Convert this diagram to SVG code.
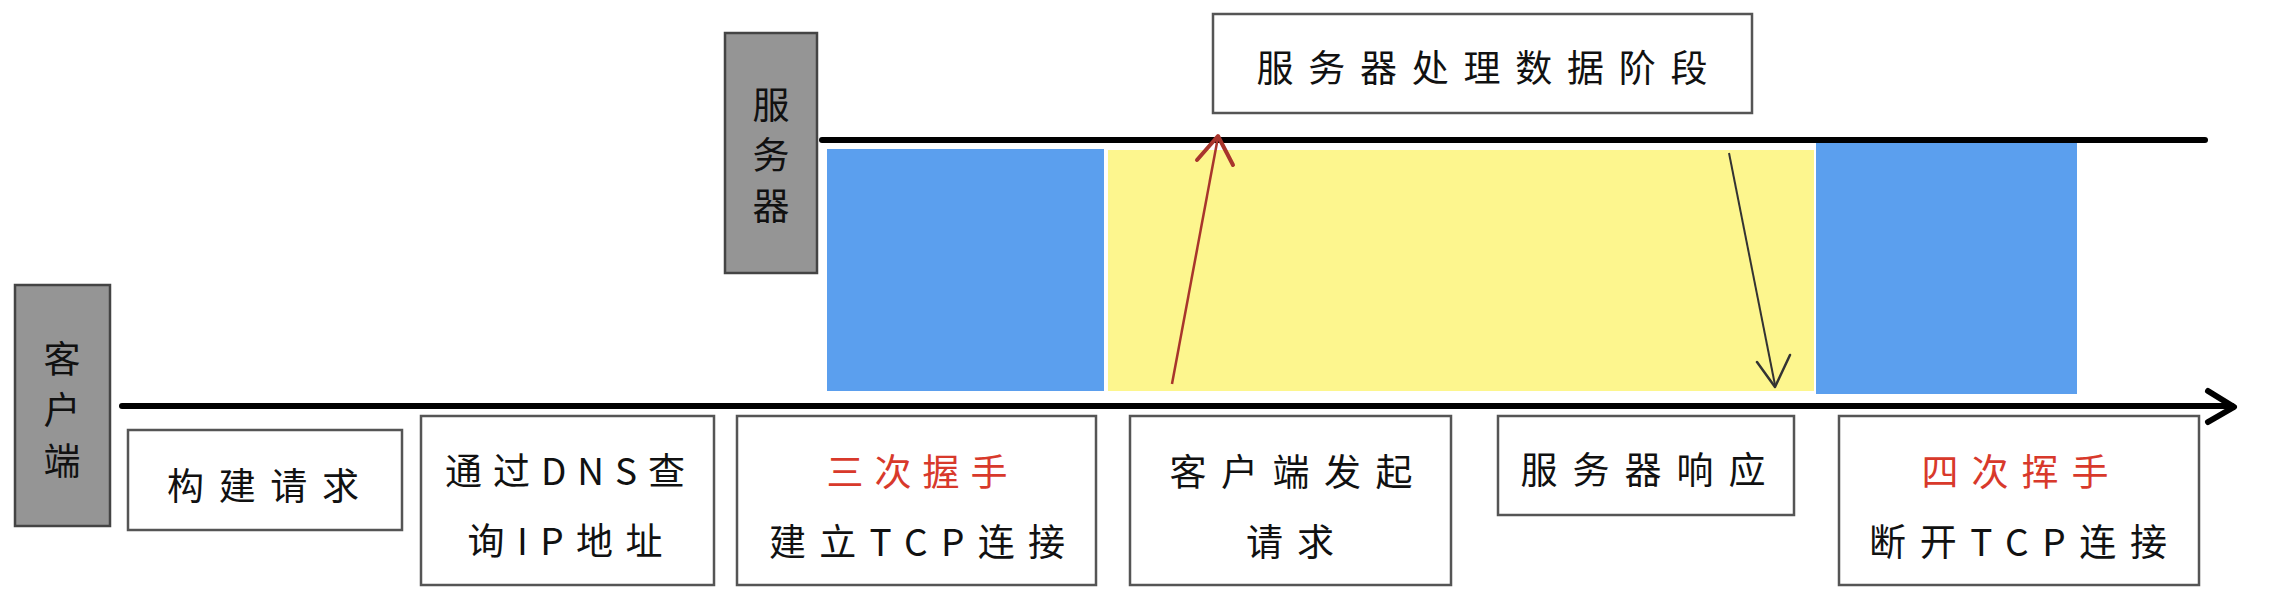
<svg xmlns="http://www.w3.org/2000/svg" width="2274" height="612" viewBox="0 0 2274 612">
<defs>
<style>
.box{fill:#ffffff;stroke:#555;stroke-width:2.5}
.gbox{fill:#959595;stroke:#444;stroke-width:2.5}
.t{font-family:"Noto Sans CJK SC","Noto Sans",sans-serif;font-size:37px;fill:#111;text-anchor:middle;dominant-baseline:central}
.r{fill:#d8392b}
.axis{stroke:#000;stroke-width:6;fill:none;stroke-linecap:round;stroke-linejoin:round}
</style>
</defs>
<rect width="2274" height="612" fill="#ffffff"/>

<g id="phases">
<rect x="827" y="149" width="277" height="242" fill="#5b9fee"/>
<rect x="1108" y="150" width="706" height="241" fill="#fdf68e"/>
<rect x="1816" y="141" width="261" height="253" fill="#5b9fee"/>
</g>

<g id="connectors">
<line class="axis" x1="822" y1="140" x2="2205" y2="140" stroke-width="5"/>
<line class="axis" x1="122" y1="406" x2="2232" y2="406"/>
<polyline class="axis" points="2208,391 2234,407 2208,422"/>
<line x1="1172" y1="384" x2="1218" y2="137" stroke="#a8352c" stroke-width="2.5"/>
<polyline points="1197,160 1218,136 1233,165" fill="none" stroke="#a8352c" stroke-width="4" stroke-linecap="round" stroke-linejoin="round"/>
<line x1="1729" y1="153" x2="1775" y2="385" stroke="#333" stroke-width="2"/>
<polyline points="1757,362 1775,387 1790,355" fill="none" stroke="#333" stroke-width="2.5" stroke-linecap="round" stroke-linejoin="round"/>
</g>

<g id="server">
<rect class="gbox" x="725" y="33" width="92" height="240"/>
<text class="t" x="771" y="103">服</text>
<text class="t" x="771" y="153">务</text>
<text class="t" x="771" y="204">器</text>
</g>

<g id="client">
<rect class="gbox" x="15" y="285" width="95" height="241"/>
<text class="t" x="62" y="357">客</text>
<text class="t" x="62" y="408">户</text>
<text class="t" x="62" y="459">端</text>
</g>

<g id="server-processing">
<rect class="box" x="1213" y="14" width="539" height="99"/>
<text class="t" x="1482" y="66" textLength="451" lengthAdjust="spacing">服务器处理数据阶段</text>
</g>

<g id="build-request">
<rect class="box" x="128" y="430" width="274" height="100"/>
<text class="t" x="263" y="484" textLength="192" lengthAdjust="spacing">构建请求</text>
</g>

<g id="dns">
<rect class="box" x="421" y="416" width="293" height="169"/>
<text class="t" x="565" y="469" textLength="240" lengthAdjust="spacing">通过DNS查</text>
<text class="t" x="565" y="539" textLength="195" lengthAdjust="spacing">询IP地址</text>
</g>

<g id="handshake">
<rect class="box" x="737" y="416" width="359" height="169"/>
<text class="t r" x="917" y="470" textLength="181" lengthAdjust="spacing">三次握手</text>
<text class="t" x="917" y="540" textLength="296" lengthAdjust="spacing">建立TCP连接</text>
</g>

<g id="client-request">
<rect class="box" x="1130" y="416" width="321" height="169"/>
<text class="t" x="1291" y="470" textLength="243" lengthAdjust="spacing">客户端发起</text>
<text class="t" x="1290" y="540" textLength="88" lengthAdjust="spacing">请求</text>
</g>

<g id="server-response">
<rect class="box" x="1498" y="416" width="296" height="99"/>
<text class="t" x="1643" y="468" textLength="245" lengthAdjust="spacing">服务器响应</text>
</g>

<g id="wave">
<rect class="box" x="1839" y="416" width="360" height="169"/>
<text class="t r" x="2015" y="470" textLength="187" lengthAdjust="spacing">四次挥手</text>
<text class="t" x="2018" y="540" textLength="298" lengthAdjust="spacing">断开TCP连接</text>
</g>
</svg>
